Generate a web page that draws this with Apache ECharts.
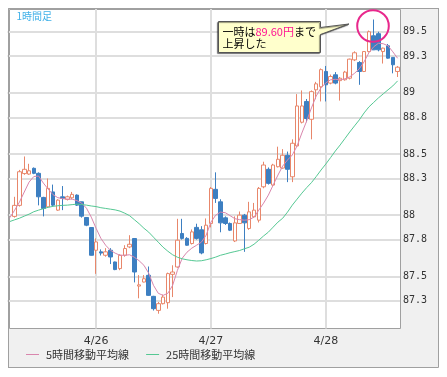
<!DOCTYPE html>
<html><head><meta charset="utf-8">
<script src="https://cdn.jsdelivr.net/npm/echarts@6/dist/echarts.min.js"></script>
<style>html,body{margin:0;padding:0;background:#fff}#c{width:447px;height:377px}</style>
</head><body><div id="c"></div>
<script>
const categories = [
'4/25 06:00','4/25 07:00','4/25 08:00','4/25 09:00','4/25 10:00','4/25 11:00','4/25 12:00','4/25 13:00','4/25 14:00','4/25 15:00',
'4/25 16:00','4/25 17:00','4/25 18:00','4/25 19:00','4/25 20:00','4/25 21:00','4/25 22:00','4/25 23:00',
'4/26 00:00','4/26 01:00','4/26 02:00','4/26 03:00','4/26 04:00','4/26 05:00','4/26 06:00','4/26 07:00','4/26 08:00','4/26 09:00',
'4/26 10:00','4/26 11:00','4/26 12:00','4/26 13:00','4/26 14:00','4/26 15:00','4/26 16:00','4/26 17:00','4/26 18:00','4/26 19:00',
'4/26 20:00','4/26 21:00','4/26 22:00','4/26 23:00',
'4/27 00:00','4/27 01:00','4/27 02:00','4/27 03:00','4/27 04:00','4/27 05:00','4/27 06:00','4/27 07:00','4/27 08:00','4/27 09:00',
'4/27 10:00','4/27 11:00','4/27 12:00','4/27 13:00','4/27 14:00','4/27 15:00','4/27 16:00','4/27 17:00','4/27 18:00','4/27 19:00',
'4/27 20:00','4/27 21:00','4/27 22:00','4/27 23:00',
'4/28 00:00','4/28 01:00','4/28 02:00','4/28 03:00','4/28 04:00','4/28 05:00','4/28 06:00','4/28 07:00','4/28 08:00','4/28 09:00',
'4/28 10:00','4/28 11:00','4/28 12:00','4/28 13:00','4/28 14:00','4/28 15:00'
];
const opens = ['-',
87.99,88.08,88.34,88.336,88.383,88.342,88.145,88.068,88.19,88.041,
88.15,88.129,88.142,88.164,88.109,87.981,87.899,87.713,87.70,87.672,
87.713,87.617,87.563,87.672,87.74,87.809,87.42,87.453,87.508,87.336,
87.221,87.276,87.284,87.516,87.576,87.85,87.81,87.768,87.90,87.88,
87.768,87.932,88.211,88.109,87.978,87.932,87.789,87.932,88.0,87.891,
87.986,87.959,88.232,88.375,88.246,88.396,88.385,88.49,88.314,88.566,
88.76,88.93,88.784,89.025,89.05,89.175,89.08,89.148,89.10,89.107,
89.12,89.27,89.248,89.175,89.338,89.467,89.484,89.338,89.385,89.29,89.175];
const closes = ['-',
88.08,88.355,88.375,88.363,88.342,88.15,88.055,88.219,88.082,88.123,
88.137,88.15,88.17,88.082,87.992,87.918,87.672,87.781,87.69,87.70,
87.658,87.555,87.672,87.727,87.762,87.535,87.43,87.48,87.344,87.235,
87.276,87.33,87.522,87.535,87.795,87.81,87.754,87.863,87.81,87.691,
87.918,88.219,88.137,87.937,87.932,87.877,87.937,88.0,87.937,88.027,
88.041,88.219,88.41,88.26,88.41,88.457,88.49,88.375,88.588,88.893,
88.893,88.79,89.01,89.074,89.19,89.066,89.134,89.08,89.12,89.17,
89.276,89.328,89.175,89.338,89.50,89.352,89.352,89.366,89.284,89.23,89.21];
const lows = ['-',
87.98,88.07,88.33,88.33,88.335,88.08,87.99,88.06,88.07,88.035,
88.041,88.12,88.13,88.075,87.98,87.91,87.67,87.52,87.67,87.66,
87.60,87.55,87.55,87.66,87.73,87.45,87.32,87.45,87.34,87.22,
87.194,87.27,87.235,87.33,87.57,87.80,87.75,87.76,87.80,87.68,
87.76,87.90,88.10,87.86,87.92,87.87,87.78,87.93,87.70,87.88,
87.98,87.94,88.22,88.25,88.24,88.39,88.38,88.27,88.27,88.56,
88.75,88.76,88.62,88.948,88.93,88.93,89.07,89.07,88.937,89.10,
89.11,89.26,89.066,89.17,89.33,89.35,89.34,89.24,89.28,89.16,89.13];
const highs = ['-',
88.15,88.37,88.48,88.42,88.39,88.35,88.15,88.30,88.25,88.13,
88.238,88.16,88.19,88.17,88.11,87.985,87.90,87.81,87.72,87.73,
87.73,87.62,87.68,87.754,87.836,87.81,87.51,87.51,87.58,87.34,
87.29,87.35,87.53,87.59,87.97,87.97,87.82,87.883,87.93,87.91,
87.973,88.23,88.35,88.13,87.99,87.94,87.99,88.03,88.01,88.109,
88.10,88.23,88.437,88.39,88.42,88.56,88.54,88.52,88.62,88.99,
89.02,88.95,89.02,89.09,89.20,89.22,89.15,89.17,89.13,89.18,
89.28,89.34,89.26,89.34,89.51,89.60,89.50,89.37,89.40,89.29,89.22];
const ma5 = [
87.980,88.041,88.107,88.189,88.270,88.316,88.320,88.262,88.213,88.168,
88.143,88.135,88.131,88.131,88.119,88.098,88.057,87.984,87.893,87.811,
87.754,87.713,87.689,87.672,87.672,87.676,87.656,87.627,87.590,87.525,
87.426,87.361,87.344,87.361,87.426,87.549,87.648,87.697,87.730,87.754,
87.779,87.836,87.943,88.000,88.025,88.020,87.996,87.971,87.963,87.959,
87.963,87.984,88.041,88.098,88.164,88.246,88.328,88.402,88.451,88.492,
88.566,88.672,88.770,88.877,88.975,89.041,89.082,89.107,89.111,89.107,
89.115,89.131,89.160,89.197,89.254,89.328,89.377,89.406,89.402,89.385,
89.336,89.283];
const ma25 = [
87.948,87.962,87.975,87.992,88.008,88.028,88.041,88.053,88.064,88.072,
88.077,88.080,88.082,88.086,88.090,88.087,88.082,88.075,88.070,88.061,
88.055,88.049,88.043,88.033,88.016,87.996,87.963,87.930,87.893,87.861,
87.820,87.779,87.738,87.705,87.676,87.656,87.643,87.635,87.629,87.625,
87.627,87.635,87.645,87.657,87.672,87.682,87.693,87.702,87.711,87.725,
87.738,87.762,87.795,87.830,87.861,87.902,87.943,87.975,88.025,88.082,
88.131,88.180,88.225,88.266,88.316,88.369,88.418,88.471,88.525,88.574,
88.627,88.680,88.730,88.779,88.836,88.885,88.922,88.959,88.992,89.025,
89.057,89.098];
const yTicks = [87.3,87.5,87.8,88,88.3,88.5,88.8,89,89.3,89.5];
const seriesNames = ['5時間移動平均線','25時間移動平均線'];

const candleData = categories.map((c,i)=> opens[i]==='-' ? '-' : [opens[i],closes[i],lows[i],highs[i]]);
const isDay = (idx, v) => /00:00$/.test(categories[idx]);

const chart = echarts.init(document.getElementById('c'), null, {renderer:'canvas'});
chart.setOption({
  animation:false,
  grid:{left:7.5, right:47, top:9, bottom:48.5, show:false},
  xAxis:{type:'category', data:categories, boundaryGap:true,
    axisLine:{show:false}, axisTick:{show:false, alignWithLabel:true},
    axisLabel:{interval:isDay, margin:7, color:'#333', fontSize:11, fontFamily:'DejaVu Sans',
      formatter:(v)=> v.split(' ')[0]},
    splitLine:{show:true, interval:isDay, alignWithLabel:true, lineStyle:{color:'#dedede', width:2}}},
  yAxis:{type:'value', position:'right', min:87.073, max:89.686, scale:true,
    axisLine:{show:false},
    axisTick:{show:false, customValues:yTicks},
    axisLabel:{customValues:yTicks, margin:3, color:'#333', fontSize:10, fontFamily:'DejaVu Sans Mono'},
    splitLine:{show:true, lineStyle:{color:'#dedede', width:2}}},
  legend:{data:seriesNames, left:21, top:344, icon:'rect', itemWidth:13, itemHeight:1, itemGap:17,
    textStyle:{fontSize:11, color:'#333', fontFamily:'Noto Sans CJK JP', padding:[0,0,0,2]}},
  series:[
    {type:'candlestick', data:candleData, barWidth:4,
      itemStyle:{color:'#ffffff', color0:'#3d7fc1', borderColor:'#e8876b', borderColor0:'#3d7fc1', borderWidth:1}},
    {type:'line', name:seriesNames[0], data:ma5, symbol:'none', color:'#d986ad', lineStyle:{width:1, color:'#d986ad'}},
    {type:'line', name:seriesNames[1], data:ma25, symbol:'none', color:'#55c893', lineStyle:{width:1, color:'#55c893'}}
  ],
  graphic:[
    {type:'rect', z:-10, silent:true, shape:{x:8.5,y:8.5,width:430,height:359}, style:{fill:'#f0f0f0', stroke:'#a0a0a0', lineWidth:1}},
    {type:'rect', z:-9, silent:true, shape:{x:9.5,y:9.5,width:391,height:319}, style:{fill:'#ffffff', stroke:'#a0a0a0', lineWidth:1}},
    {type:'polyline', z:50, silent:true, shape:{points:[[8.5,368],[8.5,8.5],[439,8.5]]}, style:{stroke:'#a0a0a0', lineWidth:1, fill:null}},
    {type:'text', z:50, silent:true, x:16.5, y:11, style:{text:'1時間足', fontSize:10, fontFamily:'Noto Sans CJK JP', fill:'#3fb0e8'}},
    {type:'polygon', z:60, silent:true, shape:{points:[[218.5,21.5],[320.5,21.5],[320.5,27.5],[349,24],[320.5,34.5],[320.5,52.5],[218.5,52.5]]},
      style:{fill:'#ffffcc', stroke:'#555', lineWidth:1, shadowColor:'rgba(0,0,0,0.45)', shadowBlur:1, shadowOffsetX:-1, shadowOffsetY:1}},
    {type:'text', z:61, silent:true, x:222.5, y:25.5, style:{
      text:'{a|一時は}{b|89.60円}{a|まで}\n{a|上昇した}',
      rich:{a:{fontSize:11, fontFamily:'Noto Sans CJK JP', fill:'#000', lineHeight:12},
            b:{fontSize:11, fontFamily:'Noto Sans CJK JP', fill:'#ff1493', lineHeight:12}}}},
    {type:'circle', z:62, silent:true, shape:{cx:373, cy:26, r:15.8}, style:{fill:null, stroke:'#e8288c', lineWidth:2}}
  ]
});
</script></body></html>
